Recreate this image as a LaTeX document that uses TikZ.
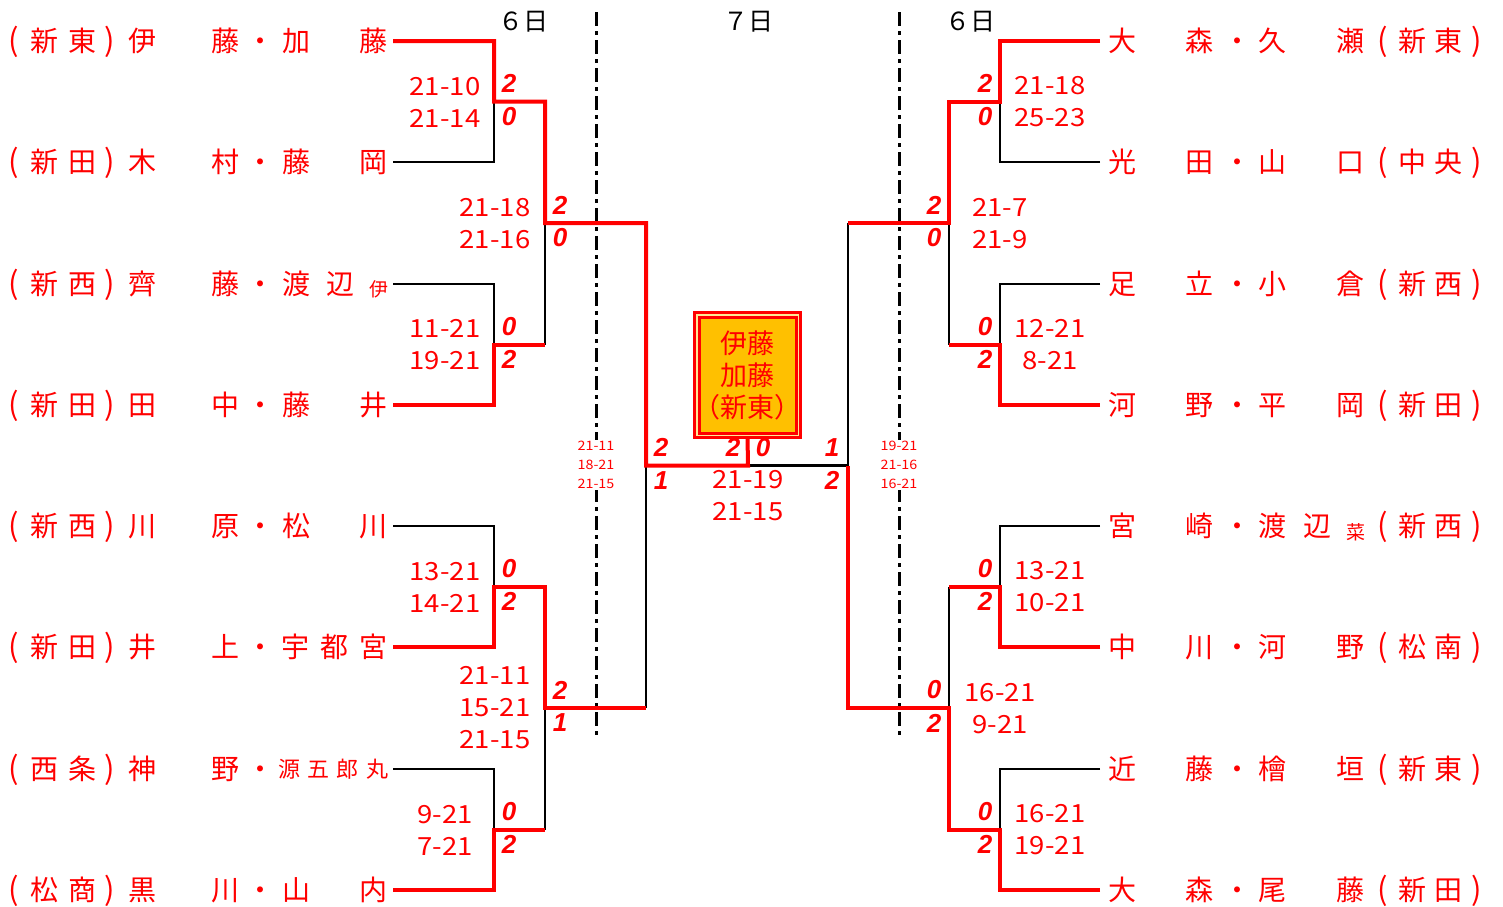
\documentclass[tikz,border=0pt]{standalone}
\usepackage{fontspec}
\usepackage{xcolor}
\usetikzlibrary{positioning}
\setmainfont{Noto Sans CJK JP}
\newfontfamily\scorefont[FakeStretch=1.1]{Noto Sans CJK JP}
\newfontfamily\cntfont{Liberation Sans}
\definecolor{winred}{RGB}{255,0,0}
\definecolor{champbg}{RGB}{255,192,0}
\definecolor{champgap}{RGB}{255,232,150}

\newcommand{\bp}[1]{{\fontsize{31}{31}\selectfont#1}}
\newcommand{\player}[3]{\foreach \x/\c [count=\i] in {#3} \node[namech] (#1-\i) at (\x,#2+10.5) {\c};}
\newcommand{\lclub}[4]{\player{#1c}{#2}{14/\bp(,44/#3,82/#4,110/\bp)}}
\newcommand{\rclub}[4]{\player{#1c}{#2}{1383/\bp(,1412/#3,1448/#4,1477/\bp)}}
\newcommand{\games}[4]{%
  \node[cnt] (#1u) at ([shift={(#2,-18)}]#1) {#3};
  \node[cnt] (#1d) at ([shift={(#2,15)}]#1) {#4};}

\begin{document}
\begin{tikzpicture}[
    x=1pt, y=-1pt,
    every node/.style={inner sep=0pt},
    namech/.style={anchor=base, font=\fontsize{28}{28}\selectfont, text=winred},
    smallch/.style={font=\fontsize{19}{19}\selectfont, text=winred},
    midch/.style={anchor=base, font=\fontsize{22}{22}\selectfont, text=winred},
    score/.style={font=\scorefont\fontsize{25}{32}\selectfont, text=winred, align=center},
    tinyscore/.style={font=\scorefont\fontsize{13}{19}\selectfont, text=winred, align=center, fill=white, inner sep=1pt},
    cnt/.style={font=\cntfont\bfseries\itshape\fontsize{26}{26}\selectfont, text=winred},
    day/.style={font=\fontsize{25}{25}\selectfont},
    winline/.style={winred, line width=4pt},
    loseline/.style={black, line width=2.5pt},
    daysep/.style={black, line width=3pt, dash pattern=on 14pt off 5pt on 4pt off 5pt},
    champ/.style={draw=winred, line width=3pt, double=champgap, double distance=1.5pt, fill=champbg,
      minimum width=101.5, minimum height=120.5, align=center, text=winred, font=\fontsize{27}{32}\selectfont}
]
\useasboundingbox (0,0) rectangle (1503,906);

% Days
\node[day] (day1) at (523,22) {６日};
\node[day] (day2) at (748,22) {７日};
\node[day] (day3) at (970,22) {６日};
\coordinate (sepl top) at (596,12);
\coordinate (sepl bot) at (596,738);
\coordinate (sepr top) at (899,12);
\coordinate (sepr bot) at (899,738);
\draw[daysep] (sepl top) -- (sepl bot);
\draw[daysep] (sepr top) -- (sepr bot);

% Players
\foreach \k/\y in {1/41,2/162,3/284,4/405,5/526,6/647,7/769,8/890} {
  \coordinate (L\k) at (393,\y);
  \coordinate (R\k) at (1100,\y);
}
\lclub{L1}{41}{新}{東}   \player{L1}{41}{142/伊,225/藤,260/・,296/加,373/藤}
\lclub{L2}{162}{新}{田}  \player{L2}{162}{142/木,225/村,260/・,296/藤,373/岡}
\lclub{L3}{284}{新}{西}  \player{L3}{284}{142/齊,225/藤,260/・,296/渡,340/辺}
\node[smallch] (L3-s) at (379,289) {伊};
\lclub{L4}{405}{新}{田}  \player{L4}{405}{142/田,225/中,260/・,296/藤,373/井}
\lclub{L5}{526}{新}{西}  \player{L5}{526}{142/川,225/原,260/・,296/松,373/川}
\lclub{L6}{647}{新}{田}  \player{L6}{647}{142/井,225/上,260/・,295/宇,334/都,373/宮}
\lclub{L7}{769}{西}{条}  \player{L7}{769}{142/神,225/野,260/・}
\foreach \x/\c [count=\i] in {289/源,318/五,347/郎,377/丸} \node[midch] (L7-g\i) at (\x,777.5) {\c};
\lclub{L8}{890}{松}{商}  \player{L8}{890}{142/黒,225/川,260/・,296/山,373/内}

\player{R1}{41}{1122/大,1199/森,1237/・,1272/久,1350/瀬}   \rclub{R1}{41}{新}{東}
\player{R2}{162}{1122/光,1199/田,1237/・,1272/山,1350/口}  \rclub{R2}{162}{中}{央}
\player{R3}{284}{1122/足,1199/立,1237/・,1272/小,1350/倉}  \rclub{R3}{284}{新}{西}
\player{R4}{405}{1122/河,1199/野,1237/・,1272/平,1350/岡}  \rclub{R4}{405}{新}{田}
\player{R5}{526}{1122/宮,1199/崎,1237/・,1272/渡,1317/辺}  \rclub{R5}{526}{新}{西}
\node[smallch] (R5-s) at (1356,532) {菜};
\player{R6}{647}{1122/中,1199/川,1237/・,1272/河,1350/野}  \rclub{R6}{647}{松}{南}
\player{R7}{769}{1122/近,1199/藤,1237/・,1272/檜,1350/垣}  \rclub{R7}{769}{新}{東}
\player{R8}{890}{1122/大,1199/森,1237/・,1272/尾,1350/藤}  \rclub{R8}{890}{新}{田}

% Junctions
\coordinate (la1) at (494,101.5); \coordinate (lb1) at (545,101.5);
\coordinate (la2) at (494,344.5); \coordinate (lb2) at (545,344.5);
\coordinate (la3) at (494,586.5); \coordinate (lb3) at (545,586.5);
\coordinate (la4) at (494,829.5); \coordinate (lb4) at (545,829.5);
\coordinate (lc1) at (545,223);   \coordinate (ld1) at (646,223);
\coordinate (lc2) at (545,708);   \coordinate (ld2) at (646,708);
\coordinate (le) at (646,465.5);
\coordinate (fin) at (748,465.5);
\coordinate (ra1) at (1000,101.5); \coordinate (rb1) at (949,101.5);
\coordinate (ra2) at (1000,344.5); \coordinate (rb2) at (949,344.5);
\coordinate (ra3) at (1000,586.5); \coordinate (rb3) at (949,586.5);
\coordinate (ra4) at (1000,829.5); \coordinate (rb4) at (949,829.5);
\coordinate (rc1) at (949,223);    \coordinate (rd1) at (848,223);
\coordinate (rc2) at (949,708);    \coordinate (rd2) at (848,708);
\coordinate (re) at (848,465.5);

% Champion
\node[champ] (champ) at (747.5,375) {伊藤\\加藤\\\makebox[70pt]{（新東）}};

% Lines
\draw[loseline] (L2) -| (la1);
\draw[loseline] (L3) -| (la2);
\draw[loseline] (L5) -| (la3);
\draw[loseline] (L7) -| (la4);
\draw[loseline] (lc1) -- (lb2);
\draw[loseline] (lc2) -- (lb4);
\draw[loseline] (le) -- (ld2);
\draw[loseline] (fin) -- (re);
\draw[loseline] (R2) -| (ra1);
\draw[loseline] (R3) -| (ra2);
\draw[loseline] (R5) -| (ra3);
\draw[loseline] (R7) -| (ra4);
\draw[loseline] (rc1) -- (rb2);
\draw[loseline] (rb3) -- (rc2);
\draw[loseline] (rd1) -- (re);

\draw[winline] (L1) -| (la1) -- (lb1) -- (lc1) -- (ld1) -- (le) -- (fin) -- (champ.south);
\draw[winline] (L4) -| (la2) -- (lb2);
\draw[winline] (L6) -| (la3) -- (lb3) -- (lc2) -- (ld2);
\draw[winline] (L8) -| (la4) -- (lb4);
\draw[winline] (R1) -| (ra1) -- (rb1) -- (rc1) -- (rd1);
\draw[winline] (R4) -| (ra2) -- (rb2);
\draw[winline] (R6) -| (ra3) -- (rb3);
\draw[winline] (R8) -| (ra4) -- (rb4) -- (rc2) -- (rd2) -- (re);

% Games won
\games{la1}{15}{2}{0}
\games{la2}{15}{0}{2}
\games{la3}{15}{0}{2}
\games{la4}{15}{0}{2}
\games{lc1}{15}{2}{0}
\games{lc2}{15}{2}{1}
\games{le}{15}{2}{1}
\node[cnt] (finl) at ([shift={(-15,-18)}]fin) {2};
\node[cnt] (finr) at ([shift={(15,-18)}]fin) {0};
\games{ra1}{-15}{2}{0}
\games{ra2}{-15}{0}{2}
\games{ra3}{-15}{0}{2}
\games{ra4}{-15}{0}{2}
\games{rc1}{-15}{2}{0}
\games{rc2}{-15}{0}{2}
\games{re}{-16}{1}{2}

% Scores
\node[score] (s-la1) at (445,102) {21-10\\21-14};
\node[score] (s-la2) at (445,345) {11-21\\19-21};
\node[score] (s-la3) at (445,587) {13-21\\14-21};
\node[score] (s-la4) at (445,830) {9-21\\7-21};
\node[score] (s-lc1) at (495,224) {21-18\\21-16};
\node[score] (s-lc2) at (495,708) {21-11\\15-21\\21-15};
\node[score] (s-fin) at (748,496) {21-19\\21-15};
\node[score] (s-ra1) at (1050,102) {21-18\\25-23};
\node[score] (s-ra2) at (1050,345) {12-21\\8-21};
\node[score] (s-ra3) at (1050,587) {13-21\\10-21};
\node[score] (s-ra4) at (1050,830) {16-21\\19-21};
\node[score] (s-rc1) at (1000,224) {21-7\\21-9};
\node[score] (s-rc2) at (1000,709) {16-21\\9-21};
\node[tinyscore] (s-le) at (596,465) {21-11\\18-21\\21-15};
\node[tinyscore] (s-re) at (899,465) {19-21\\21-16\\16-21};

\end{tikzpicture}
\end{document}
